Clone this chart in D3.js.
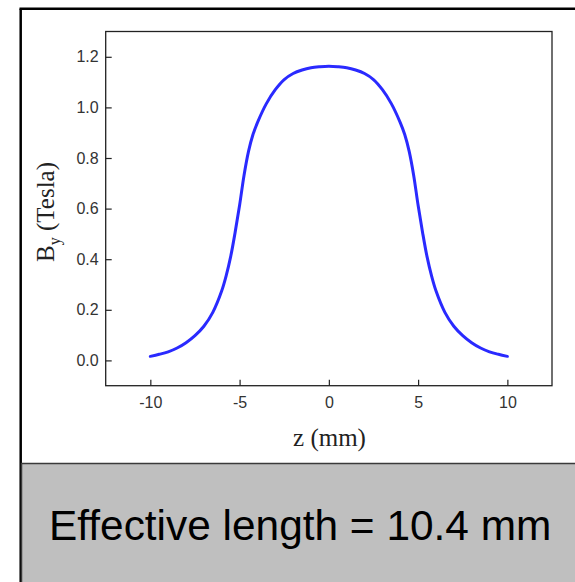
<!DOCTYPE html>
<html>
<head>
<meta charset="utf-8">
<script src="https://cdn.jsdelivr.net/npm/d3@7/dist/d3.min.js"></script>
<style>
  html, body { margin: 0; padding: 0; background: #ffffff; }
  svg { display: block; }
</style>
</head>
<body>
<script>
// ---- data ----
const zValues = [-10, -9.5, -9, -8.5, -8, -7.5, -7, -6.5, -6, -5.75, -5.5, -5.25, -5, -4.75, -4.5, -4.25, -4, -3.5, -3, -2.5, -2, -1.5, -1, -0.5,
                 0, 0.5, 1, 1.5, 2, 2.5, 3, 3.5, 4, 4.25, 4.5, 4.75, 5, 5.25, 5.5, 5.75, 6, 6.5, 7, 7.5, 8, 8.5, 9, 9.5, 10];
const byValues = [0.016, 0.024, 0.034, 0.049, 0.070, 0.098, 0.135, 0.190, 0.275, 0.335, 0.410, 0.506, 0.613, 0.732, 0.826, 0.893, 0.940, 1.015, 1.070, 1.110, 1.134, 1.148, 1.157, 1.161,
                  1.163, 1.161, 1.157, 1.148, 1.134, 1.110, 1.070, 1.015, 0.940, 0.893, 0.826, 0.732, 0.613, 0.506, 0.410, 0.335, 0.275, 0.190, 0.135, 0.098, 0.070, 0.049, 0.034, 0.024, 0.016];
const xTicks = [-10, -5, 0, 5, 10];
const yTicks = [0.0, 0.2, 0.4, 0.6, 0.8, 1.0, 1.2];
const xDomain = [-12.5, 12.5];
const yDomain = [-0.1, 1.3];
const xLabel = "z (mm)";
const yLabelMain = "B";
const yLabelSub = "y";
const yLabelRest = " (Tesla)";
const caption = "Effective length = 10.4 mm";

const W = 575, H = 582;
const plot = { left: 105.7, top: 31.5, right: 552, bottom: 385.7 };

const svg = d3.select("body").append("svg").attr("width", W).attr("height", H);

// outer frame
svg.append("rect").attr("x", 0).attr("y", 0).attr("width", W).attr("height", H).attr("fill", "#ffffff");
svg.append("line").attr("x1", 20.7).attr("x2", 20.7).attr("y1", 8.7).attr("y2", H + 5)
  .attr("stroke", "#000").attr("stroke-width", 2.5);
svg.append("line").attr("x1", 19.5).attr("x2", W + 5).attr("y1", 8.7).attr("y2", 8.7)
  .attr("stroke", "#000").attr("stroke-width", 2.5);

// caption box
svg.append("rect").attr("x", 21.5).attr("y", 463.5).attr("width", W).attr("height", H)
  .attr("fill", "#bfbfbf").attr("stroke", "#3a3a3a").attr("stroke-width", 1.5);
svg.append("text").attr("x", 49).attr("y", 540)
  .attr("font-family", "'Liberation Sans', Arial, Helvetica, sans-serif")
  .attr("font-size", 42.4).attr("fill", "#000").text(caption);

// scales
const x = d3.scaleLinear().domain(xDomain).range([plot.left, plot.right]);
const y = d3.scaleLinear().domain(yDomain).range([plot.bottom, plot.top]);

// axes
const axisFont = "'Liberation Sans', Arial, Helvetica, sans-serif";
const gx = svg.append("g").attr("transform", `translate(0,${plot.bottom})`)
  .call(d3.axisBottom(x).tickValues(xTicks).tickSizeInner(-6).tickSizeOuter(0).tickPadding(11)
    .tickFormat(d => String(d)));
const gy = svg.append("g").attr("transform", `translate(${plot.left},0)`)
  .call(d3.axisLeft(y).tickValues(yTicks).tickSizeInner(-6).tickSizeOuter(0).tickPadding(7)
    .tickFormat(d => d.toFixed(1)));
[gx, gy].forEach(g => {
  g.attr("font-size", null).attr("font-family", null);
  g.select(".domain").remove();
  g.selectAll(".tick line").attr("stroke", "#222").attr("stroke-width", 1.2);
  g.selectAll(".tick text").attr("font-family", axisFont).attr("font-size", 16).attr("fill", "#333");
});

// plot box
svg.append("rect").attr("x", plot.left).attr("y", plot.top)
  .attr("width", plot.right - plot.left).attr("height", plot.bottom - plot.top)
  .attr("fill", "none").attr("stroke", "#222").attr("stroke-width", 1.3);

// curve
const line = d3.line().x((d, i) => x(zValues[i])).y(d => y(d)).curve(d3.curveCatmullRom.alpha(0.5));
svg.append("path").datum(byValues).attr("d", line)
  .attr("fill", "none").attr("stroke", "#2a2aff").attr("stroke-width", 3).attr("stroke-linejoin", "round")
  .attr("stroke-linecap", "round");

// axis labels
const serif = "'Liberation Serif', 'Times New Roman', Times, serif";
svg.append("text").attr("x", 329.5).attr("y", 446).attr("text-anchor", "middle")
  .attr("font-family", serif).attr("font-size", 25).attr("fill", "#222").text(xLabel);

const yl = svg.append("text").attr("transform", "translate(54,212) rotate(-90)")
  .attr("text-anchor", "middle").attr("font-family", serif).attr("font-size", 25).attr("fill", "#222");
yl.append("tspan").text(yLabelMain);
yl.append("tspan").attr("font-size", 16).attr("dy", 6).text(yLabelSub);
yl.append("tspan").attr("dy", -6).text(yLabelRest);
</script>
</body>
</html>
